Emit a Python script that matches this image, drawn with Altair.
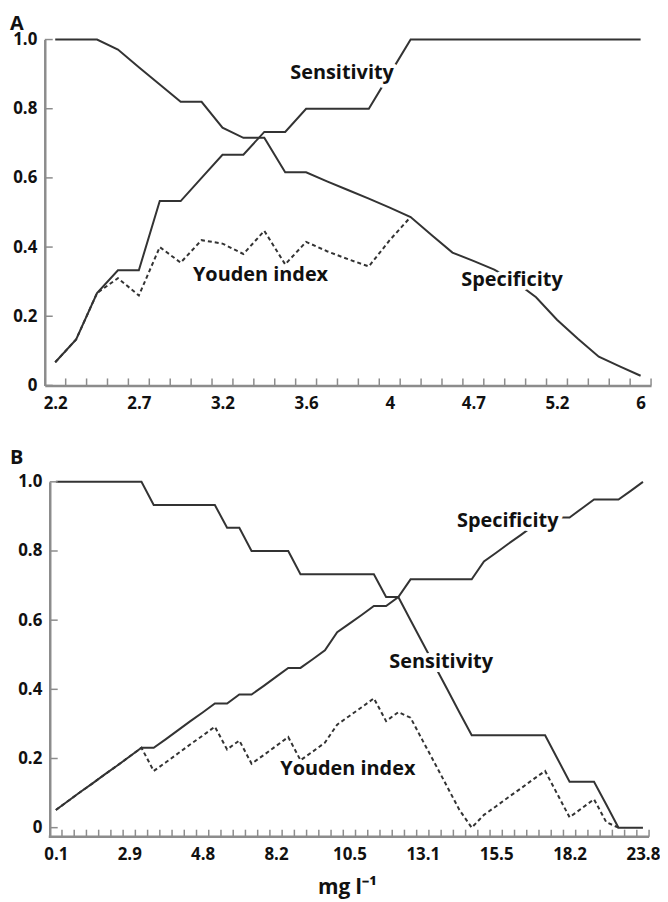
import altair as alt
import pandas as pd

# ---------------- Panel A data ----------------
a_tick_labels = ["2.2", "2.7", "3.2", "3.6", "4", "4.7", "5.2", "6"]
a_sens = [0.067, 0.133, 0.267, 0.333, 0.333, 0.533, 0.533, 0.600, 0.667, 0.667,
          0.733, 0.733, 0.800, 0.800, 0.800, 0.800, 0.900, 1.0, 1.0, 1.0,
          1.0, 1.0, 1.0, 1.0, 1.0, 1.0, 1.0, 1.0, 1.0]
a_spec = [1.0, 1.0, 1.0, 0.971, 0.92, 0.87, 0.82, 0.82, 0.745, 0.716,
          0.716, 0.616, 0.616, 0.59, 0.565, 0.54, 0.514, 0.487, 0.435, 0.384,
          0.36, 0.335, 0.30, 0.255, 0.19, 0.135, 0.083, 0.055, 0.028]
a_youden = [0.067, 0.133, 0.267, 0.31, 0.26, 0.40, 0.355, 0.42, 0.41, 0.38,
            0.447, 0.35, 0.415, 0.388, 0.365, 0.344, 0.42, 0.487]
a_notes = ["Sensitivity", "Youden index", "Specificity"]
a_note_x = [13.72, 9.82, 21.85]
a_note_y = [0.902, 0.319, 0.305]

# ---------------- Panel B data ----------------
b_tick_labels = ["0.1", "2.9", "4.8", "8.2", "10.5", "13.1", "15.5", "18.2", "23.8"]
b_sens = [1.0, 1.0, 1.0, 1.0, 1.0, 1.0, 1.0, 1.0, 0.933, 0.933,
          0.933, 0.933, 0.933, 0.933, 0.867, 0.867, 0.8, 0.8, 0.8, 0.8,
          0.733, 0.733, 0.733, 0.733, 0.733, 0.733, 0.733, 0.667, 0.667, 0.6,
          0.533, 0.467, 0.4, 0.333, 0.267, 0.267, 0.267, 0.267, 0.267, 0.267,
          0.267, 0.2, 0.133, 0.133, 0.133, 0.067, 0.0, 0.0, 0.0]
b_spec = [0.051, 0.077, 0.103, 0.128, 0.154, 0.179, 0.205, 0.231, 0.231, 0.256,
          0.282, 0.308, 0.333, 0.359, 0.359, 0.385, 0.385, 0.41, 0.436, 0.462,
          0.462, 0.487, 0.513, 0.565, 0.59, 0.615, 0.641, 0.641, 0.667, 0.718,
          0.718, 0.718, 0.718, 0.718, 0.718, 0.77, 0.795, 0.821, 0.846, 0.872,
          0.897, 0.897, 0.897, 0.923, 0.949, 0.949, 0.949, 0.974, 1.0]
b_youden = [0.051, 0.077, 0.103, 0.128, 0.154, 0.179, 0.205, 0.231, 0.164, 0.189,
            0.215, 0.241, 0.266, 0.292, 0.226, 0.252, 0.185, 0.21, 0.236, 0.262,
            0.195, 0.22, 0.246, 0.298, 0.323, 0.348, 0.374, 0.308, 0.334, 0.318,
            0.251, 0.185, 0.118, 0.051, 0.0, 0.037, 0.062, 0.088, 0.113, 0.139,
            0.164, 0.097, 0.03, 0.056, 0.082, 0.016, 0.0]
b_notes = ["Specificity", "Sensitivity", "Youden index"]
b_note_x = [36.95, 31.5, 23.87]
b_note_y = [0.888, 0.48, 0.170]

LFONT = "Open Sans"
LINE = "#333333"
AXIS = "#8c8c8c"
y_ticks = [0, 0.2, 0.4, 0.6, 0.8, 1.0]


def panel(letter, letter_dy, labels, step, sens, spec, youden,
          notes, nx, ny, width, height, ydom, xtitle, inset):
    n = len(sens)
    unit = (width - inset) / n
    xdom = [-0.5 - inset / unit, n - 0.5]
    label_idx = [i * step for i in range(len(labels))]
    arr = "[" + ",".join("'%s'" % s for s in labels) + "]"
    xaxis = alt.Axis(values=label_idx, labelExpr=f"{arr}[round(datum.value/{step})]",
                     tickSize=0, domain=(inset == 0), domainColor=AXIS, domainWidth=2.5,
                     grid=False, labelFont=LFONT, labelFontWeight="bold", labelFontSize=17,
                     labelColor="#111111", labelPadding=10, labelFlush=False,
                     title=xtitle if xtitle else None, titleFont=LFONT,
                     titleFontWeight="bold", titleFontSize=21, titleColor="#111111",
                     titlePadding=14)
    yaxis = alt.Axis(values=y_ticks,
                     labelExpr="datum.value == 0 ? '0' : format(datum.value, '.1f')",
                     tickSize=0, domainColor=AXIS, domainWidth=2.5, grid=False,
                     offset=-inset,
                     labelFont=LFONT, labelFontWeight="bold", labelFontSize=17,
                     labelColor="#111111", labelPadding=8, title=None)
    xs = alt.Scale(domain=xdom, nice=False, zero=False)
    ys = alt.Scale(domain=ydom, nice=False, zero=False)
    X = alt.X("i:Q", scale=xs, axis=xaxis)
    Y = alt.Y("v:Q", scale=ys, axis=yaxis)

    df_s = pd.DataFrame({"i": list(range(n)), "v": sens})
    df_p = pd.DataFrame({"i": list(range(n)), "v": spec})
    df_y = pd.DataFrame({"i": list(range(len(youden))), "v": youden})

    layers = []
    if inset:
        base_line = alt.Chart(pd.DataFrame({"i": [0]})).mark_rule(
            color=AXIS, strokeWidth=2.5).encode(
            x=alt.value(inset - 1), x2=alt.value(width), y=alt.value(height))
        layers.append(base_line)

    l_sens = alt.Chart(df_s).mark_line(color=LINE, strokeWidth=2).encode(x=X, y=Y)
    l_spec = alt.Chart(df_p).mark_line(color=LINE, strokeWidth=2).encode(x=X, y=Y)
    l_you = alt.Chart(df_y).mark_line(color=LINE, strokeWidth=2, strokeDash=[4, 3]).encode(x=X, y=Y)

    # inward tick marks
    xt = pd.DataFrame({"i": [k + 0.5 for k in range(-1, n)]})
    x_ticks = alt.Chart(xt).mark_rule(color=AXIS, strokeWidth=1.5).encode(
        x=X, y=alt.value(height), y2=alt.value(height - 7))
    yt = pd.DataFrame({"v": y_ticks})
    y_ticks_m = alt.Chart(yt).mark_rule(color=AXIS, strokeWidth=1.5).encode(
        y=Y, x=alt.value(inset), x2=alt.value(inset + 8))

    nd = pd.DataFrame({"txt": notes, "i": nx, "v": ny})
    halo = alt.Chart(nd).mark_text(font=LFONT, fontWeight="bold", fontSize=20,
                                   stroke="white", strokeWidth=8, fill="white",
                                   strokeJoin="round").encode(x=X, y=Y, text="txt:N")
    txt = alt.Chart(nd).mark_text(font=LFONT, fontWeight="bold", fontSize=20,
                                  color="#111111").encode(x=X, y=Y, text="txt:N")

    ld = pd.DataFrame({"t": [letter]})
    let = alt.Chart(ld).mark_text(font=LFONT, fontWeight="bold", fontSize=20,
                                  align="left", baseline="top", color="#111111").encode(
        x=alt.value(-35), y=alt.value(letter_dy), text="t:N")

    layers += [l_sens, l_spec, l_you, x_ticks, y_ticks_m, halo, txt, let]
    return alt.layer(*layers).properties(width=width, height=height)


pa = panel("A", -26, a_tick_labels, 4, a_sens, a_spec, a_youden,
           a_notes, a_note_x, a_note_y, 610, 348, [0, 1.0], None, 0)
pb = panel("B", -34, b_tick_labels, 6, b_sens, b_spec, b_youden,
           b_notes, b_note_x, b_note_y, 608, 357, [-0.026, 1.0], "mg l⁻¹", 5)

chart = alt.concat(pa, pb, columns=1, spacing=37).properties(
    padding={"left": 2, "top": 3, "right": 0, "bottom": 0}, background="white"
).configure_view(stroke=None)

chart.save("out.html", embed_options={"renderer": "svg", "actions": False})
